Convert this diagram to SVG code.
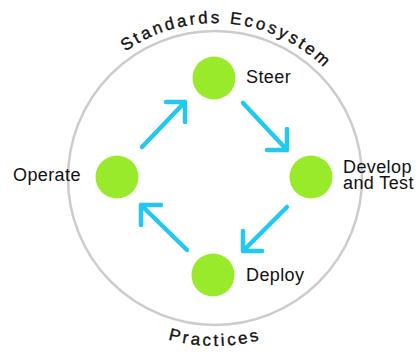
<svg xmlns="http://www.w3.org/2000/svg" width="420" height="352" viewBox="0 0 420 352">
<style>
.ring{fill:none;stroke:#cccccc;stroke-width:2.5}
.node{fill:#9aea2c}
.lbl{font-family:"Liberation Sans",Arial,sans-serif;font-size:18px;fill:#111111;letter-spacing:0.4px}
.arc{font-family:"Liberation Sans",Arial,sans-serif;font-size:17px;fill:#111111;stroke:#111111;stroke-width:0.35px}
.arr{fill:none;stroke:#22c8f2;stroke-width:4.5;stroke-linecap:round;stroke-linejoin:round}
</style>
<defs>
<path id="topArc" d="M 60 178 A 155 155 0 0 1 370 178"/>
<path id="botArc" d="M 47 178 A 168 168 0 0 0 383 178"/>
</defs>
<g id="ring">
<circle class="ring" cx="215" cy="178" r="147"/>
<text class="arc" letter-spacing="2.8"><textPath href="#topArc" startOffset="257" text-anchor="middle">Standards Ecosystem</textPath></text>
<text class="arc" letter-spacing="2.8"><textPath href="#botArc" startOffset="50%" text-anchor="middle">Practices</textPath></text>
</g>
<g id="connectors">
<path class="arr" d="M142 147 L185 102 M166 102 L185 102 L185 122"/>
<path class="arr" d="M243 103 L287 150 M287 129 L287 150 L267 150"/>
<path class="arr" d="M287 207 L243 251 M243 231 L243 251 L262 251"/>
<path class="arr" d="M187 250 L141 205 M161 205 L141 205 L141 225"/>
</g>
<g id="steer">
<circle class="node" cx="214" cy="78" r="21.5"/>
<text class="lbl" x="246" y="83">Steer</text>
</g>
<g id="develop">
<circle class="node" cx="311" cy="177" r="21.5"/>
<text class="lbl" x="343" y="172.5">Develop</text>
<text class="lbl" x="343" y="189">and Test</text>
</g>
<g id="deploy">
<circle class="node" cx="213" cy="275" r="21.5"/>
<text class="lbl" x="246" y="281">Deploy</text>
</g>
<g id="operate">
<circle class="node" cx="117" cy="177" r="21.5"/>
<text class="lbl" x="13" y="181">Operate</text>
</g>
</svg>
